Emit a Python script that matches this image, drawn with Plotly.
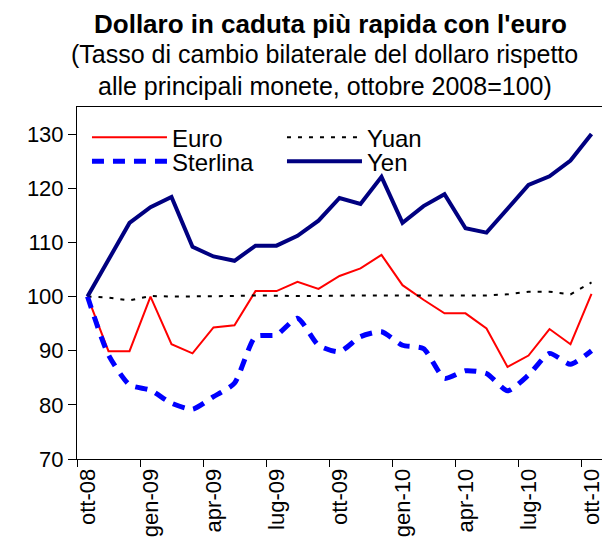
import plotly.graph_objects as go

mesi = ['ott-08', 'nov-08', 'dic-08', 'gen-09', 'feb-09', 'mar-09', 'apr-09', 'mag-09', 'giu-09',
        'lug-09', 'ago-09', 'set-09', 'ott-09', 'nov-09', 'dic-09', 'gen-10', 'feb-10', 'mar-10',
        'apr-10', 'mag-10', 'giu-10', 'lug-10', 'ago-10', 'set-10', 'ott-10']
euro = [100.0, 89.9, 89.9, 100.0, 91.2, 89.5, 94.3, 94.7, 101.0, 101.0, 102.7, 101.4, 103.8,
        105.2, 107.7, 102.1, 99.4, 96.9, 96.9, 94.1, 87.0, 89.1, 94.0, 91.2, 100.5]
yuan = [100.0, 99.8, 99.3, 100.1, 100.0, 100.0, 100.0, 100.1, 100.2, 100.1, 100.1, 100.1, 100.2,
        100.2, 100.2, 100.2, 100.2, 100.2, 100.2, 100.2, 100.4, 100.9, 100.9, 100.4, 102.6]
sterlina = [100.0, 89.2, 83.7, 82.7, 80.3, 79.2, 81.5, 84.0, 92.6, 92.9, 96.0, 91.0, 89.8,
            92.6, 93.5, 91.0, 90.4, 84.9, 86.3, 85.8, 82.6, 85.5, 89.5, 87.5, 90.0]
yen = [100.0, 106.9, 113.6, 116.5, 118.4, 109.2, 107.4, 106.6, 109.4, 109.4, 111.2, 114.0, 118.2,
       117.1, 122.1, 113.6, 116.7, 118.9, 112.6, 111.8, 116.1, 120.6, 122.2, 125.1, 130.0]

font = 'Arial, "Liberation Sans", sans-serif'

fig = go.Figure()
fig.add_trace(go.Scatter(x=mesi, y=euro, name='Euro', mode='lines', legend='legend',
                         line=dict(color='#ff0000', width=2)))
fig.add_trace(go.Scatter(x=mesi, y=yuan, name='Yuan', mode='lines', legend='legend',
                         line=dict(color='black', width=2, dash='4px,7px')))
fig.add_trace(go.Scatter(x=mesi, y=sterlina, name='Sterlina', mode='lines', legend='legend2',
                         line=dict(color='#0000ff', width=5, dash='12px,9px', shape='spline', smoothing=0.6)))
fig.add_trace(go.Scatter(x=mesi, y=yen, name='Yen', mode='lines', legend='legend2',
                         line=dict(color='#000080', width=4)))

# title and subtitle as paper annotations above the plot area
fig.add_annotation(text="<b>Dollaro in caduta più rapida con l'euro</b>",
                   xref='paper', yref='paper', x=0.482, y=1.236, xanchor='center', yanchor='middle',
                   showarrow=False, font=dict(size=26, family=font, color='black'))
fig.add_annotation(text="(Tasso di cambio bilaterale del dollaro rispetto",
                   xref='paper', yref='paper', x=0.472, y=1.151, xanchor='center', yanchor='middle',
                   showarrow=False, font=dict(size=25, family=font, color='black'))
fig.add_annotation(text="alle principali monete, ottobre 2008=100)",
                   xref='paper', yref='paper', x=0.472, y=1.061, xanchor='center', yanchor='middle',
                   showarrow=False, font=dict(size=25, family=font, color='black'))

leg = dict(orientation='h', xanchor='left', yanchor='top', x=0.019,
           entrywidth=105, itemwidth=75, font=dict(size=24, family=font),
           bgcolor='rgba(0,0,0,0)')

# page body has an 8px margin, so the figure is 8px smaller and margins shifted
fig.update_layout(
    width=602, height=541,
    paper_bgcolor='white', plot_bgcolor='white',
    margin=dict(l=69, r=8, t=99, b=90),
    font=dict(family=font, color='black'),
    legend=dict(leg, y=0.977),
    legend2=dict(leg, y=0.909),
)

fig.update_xaxes(
    type='category', range=[-0.5, 24.5],
    tick0=0, dtick=3, tickson='boundaries', tickangle=-90,
    ticks='outside', ticklen=7, tickcolor='black',
    showline=True, linecolor='black', linewidth=1, mirror=True,
    showgrid=False, zeroline=False, automargin=False,
    tickfont=dict(size=22, family=font),
)
fig.update_yaxes(
    range=[70, 135], tickvals=[70, 80, 90, 100, 110, 120, 130],
    ticks='outside', ticklen=8, tickcolor='black',
    showline=True, linecolor='black', linewidth=1, mirror=True,
    showgrid=False, zeroline=False, automargin=False,
    tickfont=dict(size=22, family=font),
)

fig.write_html("out.html")
